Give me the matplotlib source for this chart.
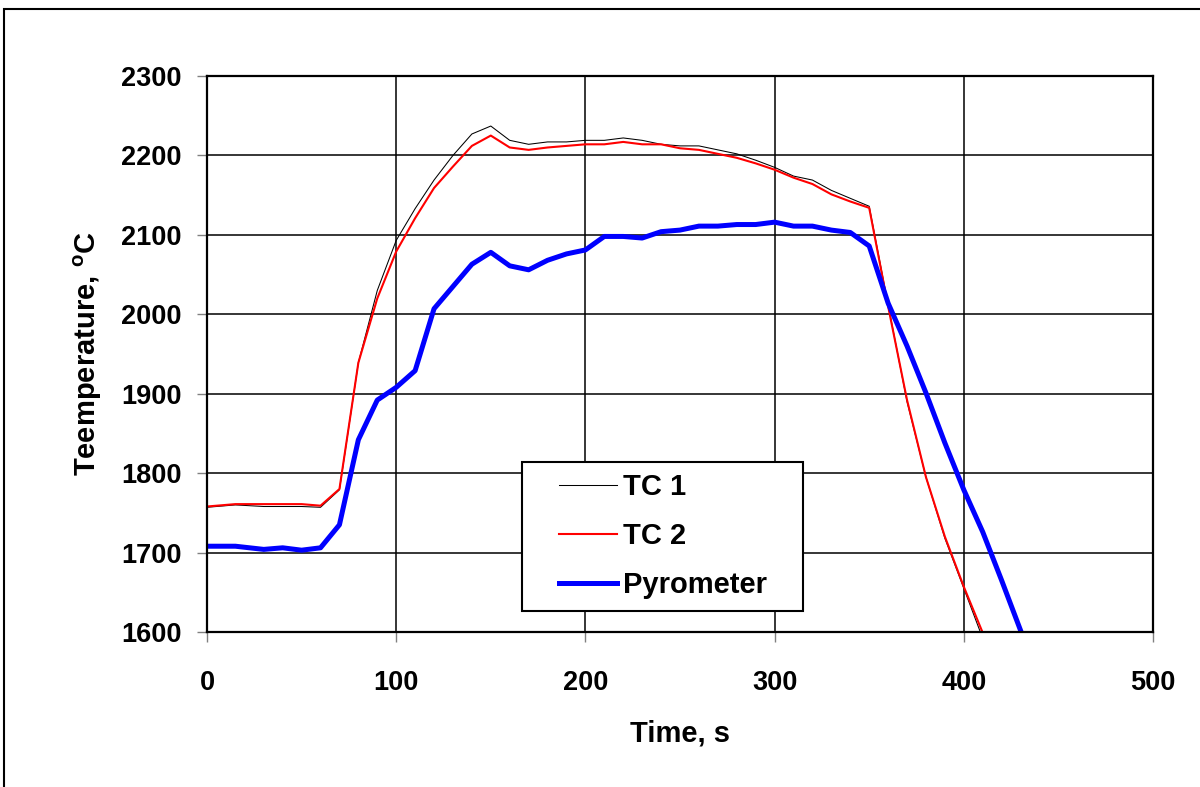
#!/bin/env python3

import numpy as np
import matplotlib
matplotlib.use("Agg")
import matplotlib.pyplot as plt
from   matplotlib.patches import Rectangle
from   matplotlib.legend_handler import HandlerLine2D

# time points (s)
time = [0, 15, 30, 40, 50, 60, 70, 80, 90, 100, 110, 120, 130, 140, 150,
        160, 170, 180, 190, 200, 210, 220, 230, 240, 250, 260, 270, 280,
        290, 300, 310, 320, 330, 340, 350, 360, 370, 380, 390, 400, 410,
        420, 430]

tc1 = [1757, 1760, 1758, 1758, 1758, 1757, 1779, 1939, 2030, 2093, 2133,
       2169, 2200, 2227, 2237, 2219, 2214, 2217, 2217, 2219, 2219, 2222,
       2219, 2214, 2212, 2212, 2207, 2202, 2194, 2185, 2174, 2169, 2156,
       2146, 2136, 2012, 1890, 1795, 1718, 1655, 1592, np.nan, np.nan]

tc2 = [1758, 1761, 1761, 1761, 1761, 1759, 1780, 1939, 2020, 2079, 2121,
       2159, 2186, 2212, 2225, 2210, 2207, 2210, 2212, 2214, 2214, 2217,
       2214, 2214, 2209, 2207, 2202, 2197, 2190, 2182, 2172, 2164, 2151,
       2142, 2134, 2010, 1892, 1795, 1720, 1657, 1599, np.nan, np.nan]

pyrometer = [1708, 1708, 1704, 1706, 1703, 1706, 1735, 1842, 1892, 1908,
             1929, 2007, 2035, 2063, 2078, 2061, 2056, 2068, 2076, 2081,
             2098, 2098, 2096, 2104, 2106, 2111, 2111, 2113, 2113, 2116,
             2111, 2111, 2106, 2103, 2086, 2014, 1960, 1901, 1838, 1779,
             1726, 1665, 1602]

series_names = ["TC 1", "TC 2", "Pyrometer"]
x_ticks      = [0, 100, 200, 300, 400, 500]
y_ticks      = [1600, 1700, 1800, 1900, 2000, 2100, 2200, 2300]


def plot_temps() -> int:
    """draw the three temperature traces"""

    plt.rcParams['font.family']      = ['Liberation Sans', 'DejaVu Sans']
    plt.rcParams['font.weight']      = 'bold'
    plt.rcParams['mathtext.fontset'] = 'custom'
    plt.rcParams['mathtext.rm']      = 'Liberation Sans:bold'
    plt.rcParams['mathtext.bf']      = 'Liberation Sans:bold'

    fig = plt.figure(figsize=(12, 7.87), dpi=100)
    axe = fig.add_axes([207 / 1200, 1 - 632 / 787, 946 / 1200, 556 / 787])

    # outer frame (runs off the right and bottom edge)
    fig.patches.append(Rectangle((4 / 1200, -0.2), 1.3, 1.2 - 9 / 787,
                                 transform=fig.transFigure, fill=False,
                                 edgecolor='black', linewidth=1.5))

    axe.plot(time, tc1, color='black', linewidth=0.75, label=series_names[0])
    axe.plot(time, tc2, color='#FF0000', linewidth=1.5, label=series_names[1])
    axe.plot(time, pyrometer, color='#0000FF', linewidth=3.6, label=series_names[2])

    axe.set_xlim(0, 500)
    axe.set_ylim(1600, 2300)
    axe.set_xticks(x_ticks)
    axe.set_yticks(y_ticks)
    axe.grid(True, color='black', linewidth=1.1)
    axe.set_axisbelow(True)

    for spine in axe.spines.values():
        spine.set_linewidth(1.6)
        spine.set_color('black')

    axe.tick_params(axis='both', direction='out', length=7, width=1,
                    color='#808080', labelsize=19.5)
    axe.tick_params(axis='x', pad=20)
    axe.tick_params(axis='y', pad=11)

    axe.set_xlabel("Time, s", fontsize=21, fontweight='bold', va='center')
    axe.set_ylabel(r"Teemperature, $^{\mathrm{o}}$C", fontsize=21,
                   fontweight='bold', va='center')
    axe.xaxis.set_label_coords(0.5, (632 - 733) / 556)
    axe.yaxis.set_label_coords((88 - 207) / 946, 0.5)

    hmap = {line: HandlerLine2D(xpad=0.88) for line in axe.get_lines()}
    leg  = axe.legend(loc='lower left', mode='expand',
                      bbox_to_anchor=(0.3327, 0.0378, 0.2977, 0.273),
                      fontsize=21, frameon=True, fancybox=False,
                      edgecolor='black', framealpha=1.0, borderpad=0.4,
                      handlelength=2.86, handletextpad=0.2, labelspacing=0.72,
                      borderaxespad=0.0, handler_map=hmap)
    leg.get_frame().set_linewidth(1.5)

    plt.savefig("out.png", dpi=100)

    return 0

def main() -> int:
    """entry point"""

    plot_temps()

    return 0

if __name__ == "__main__":
    main()
